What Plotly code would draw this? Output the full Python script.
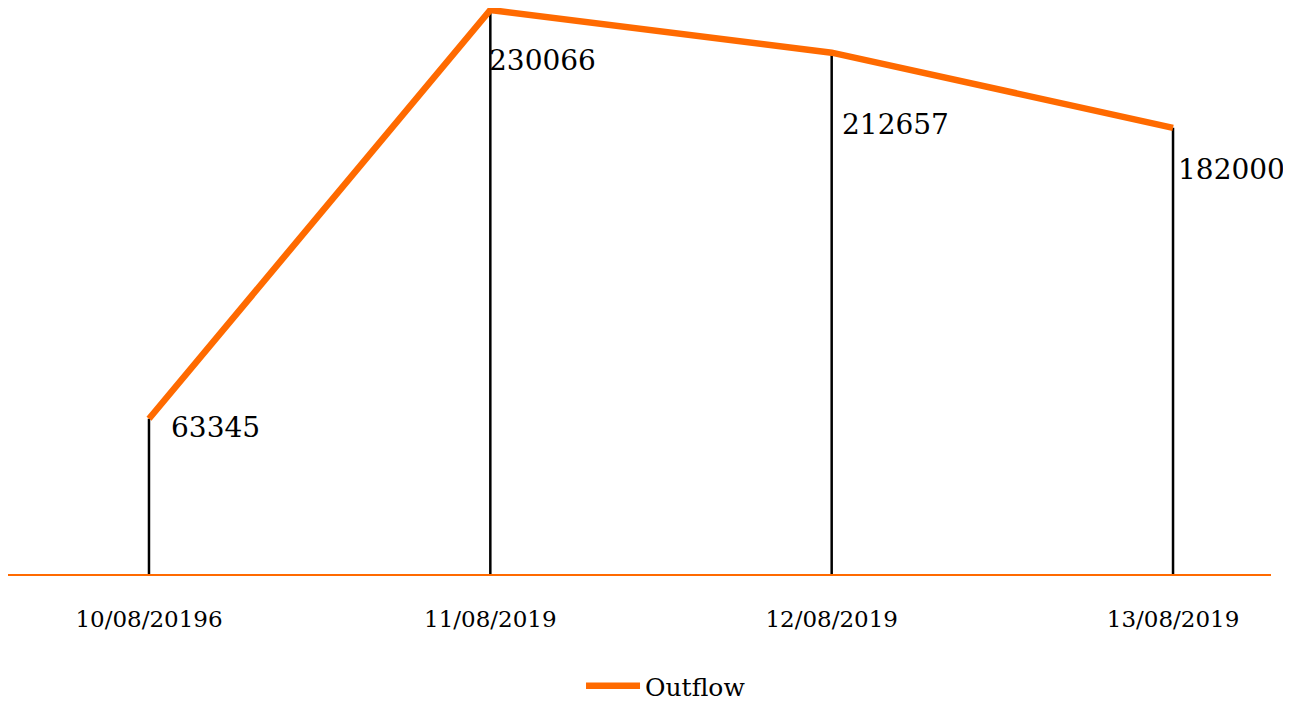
import plotly.graph_objects as go

dates = ["10/08/20196", "11/08/2019", "12/08/2019", "13/08/2019"]
outflow = [63345, 230066, 212657, 182000]
series_name = "Outflow"

ORANGE = "#ff6a00"
FONT = "DejaVu Serif"

xs = list(range(len(dates)))

# drop lines built from data
drop_x, drop_y = [], []
for i, v in zip(xs, outflow):
    drop_x += [i, i, None]
    drop_y += [v, 0, None]

fig = go.Figure()
fig.add_trace(go.Scatter(x=drop_x, y=drop_y, mode="lines",
                         line=dict(color="black", width=2.5), cliponaxis=False,
                         showlegend=False, hoverinfo="skip"))
fig.add_trace(go.Scatter(x=xs, y=outflow, mode="lines", name=series_name,
                         cliponaxis=False,
                         line=dict(color=ORANGE, width=6.5)))

shifts = [(20, -9), (-3, -50), (8, -72), (3, -42)]
for i, v, (dx, dy) in zip(xs, outflow, shifts):
    fig.add_annotation(x=i, y=v, text=str(v), showarrow=False,
                       xanchor="left", yanchor="middle",
                       xshift=dx, yshift=dy,
                       font=dict(family=FONT, size=28, color="black"))

fig.update_layout(
    width=1283, height=694,
    margin=dict(l=0, r=20, t=0, b=128, autoexpand=False),
    plot_bgcolor="white", paper_bgcolor="white",
    font=dict(family=FONT, color="black"),
    xaxis=dict(tickmode="array", tickvals=xs, ticktext=dates,
               range=[-0.413, 3.287], showgrid=False, zeroline=False,
               showline=True, linecolor=ORANGE, linewidth=2,
               ticks="", ticklabelstandoff=23,
               tickfont=dict(family=FONT, size=23, color="black")),
    yaxis=dict(range=[0, 230880], visible=False),
    showlegend=True,
    legend=dict(orientation="h", x=0.521, xanchor="center", y=-0.198, yanchor="middle",
                font=dict(family=FONT, size=25, color="black"), itemwidth=54),
)

fig.write_html("out.html")
